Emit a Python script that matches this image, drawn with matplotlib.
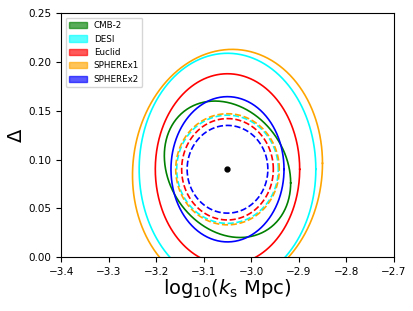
import numpy as np
import matplotlib
matplotlib.use("Agg")
import matplotlib.pyplot as plt
import matplotlib.patches as mpatches

# fiducial point
x0 = -3.05
y0 = 0.09

# experiments (legend order) and colours
names = ["CMB-2", "DESI", "Euclid", "SPHEREx1", "SPHEREx2"]
colors = ["green", "cyan", "red", "orange", "blue"]

# solid contours: half-width in log10(ks), half-height in Delta, correlation
solid_sx = [0.133, 0.186, 0.152, 0.200, 0.119]
solid_sy = [0.070, 0.119, 0.098, 0.123, 0.0745]
solid_rho = [-0.20, 0.0, 0.0, 0.05, 0.0]

# dashed contours (combined with CMB-2), no dashed for CMB-2 itself
dash_names = ["DESI", "Euclid", "SPHEREx1", "SPHEREx2"]
dash_sx = [0.107, 0.0965, 0.109, 0.085]
dash_sy = [0.0555, 0.052, 0.057, 0.045]
dash_rho = [0.0, 0.0, 0.0, 0.0]


def ellipse_xy(sx, sy, rho, n=400):
    t = np.linspace(0, 2 * np.pi, n)
    x = x0 + sx * np.cos(t)
    y = y0 + sy * (rho * np.cos(t) + np.sqrt(1 - rho ** 2) * np.sin(t))
    return x, y


fig = plt.figure(figsize=(4.14, 3.11), dpi=100)
ax = fig.add_axes([0.148, 0.1736, 0.803, 0.7836])

for name, c, sx, sy, r in zip(names, colors, solid_sx, solid_sy, solid_rho):
    x, y = ellipse_xy(sx, sy, r)
    ax.plot(x, y, '-', color=c, linewidth=1.2)

for name, sx, sy, r in zip(dash_names, dash_sx, dash_sy, dash_rho):
    c = colors[names.index(name)]
    x, y = ellipse_xy(sx, sy, r)
    ax.plot(x, y, '--', color=c, linewidth=1.2)

ax.plot(x0, y0, 'ko', markersize=3.5)

ax.set_xlim(-3.4, -2.7)
ax.set_ylim(0.0, 0.25)
ax.set_xticks(np.arange(-3.4, -2.69, 0.1))
ax.set_yticks([0.0, 0.05, 0.10, 0.15, 0.20, 0.25])
ax.tick_params(labelsize=7.5)
ax.set_xlabel(r'$\mathrm{log}_{10}(k_{\rm s}\ {\rm Mpc})$', fontsize=14, labelpad=0)
ax.set_ylabel(r'$\Delta$', fontsize=14, labelpad=2)

legend_patches = [mpatches.Patch(color=c, alpha=0.65, label=n) for n, c in zip(names, colors)]
ax.legend(handles=legend_patches, loc='upper left', fontsize=6.3)

plt.savefig("out.png", dpi=100)
